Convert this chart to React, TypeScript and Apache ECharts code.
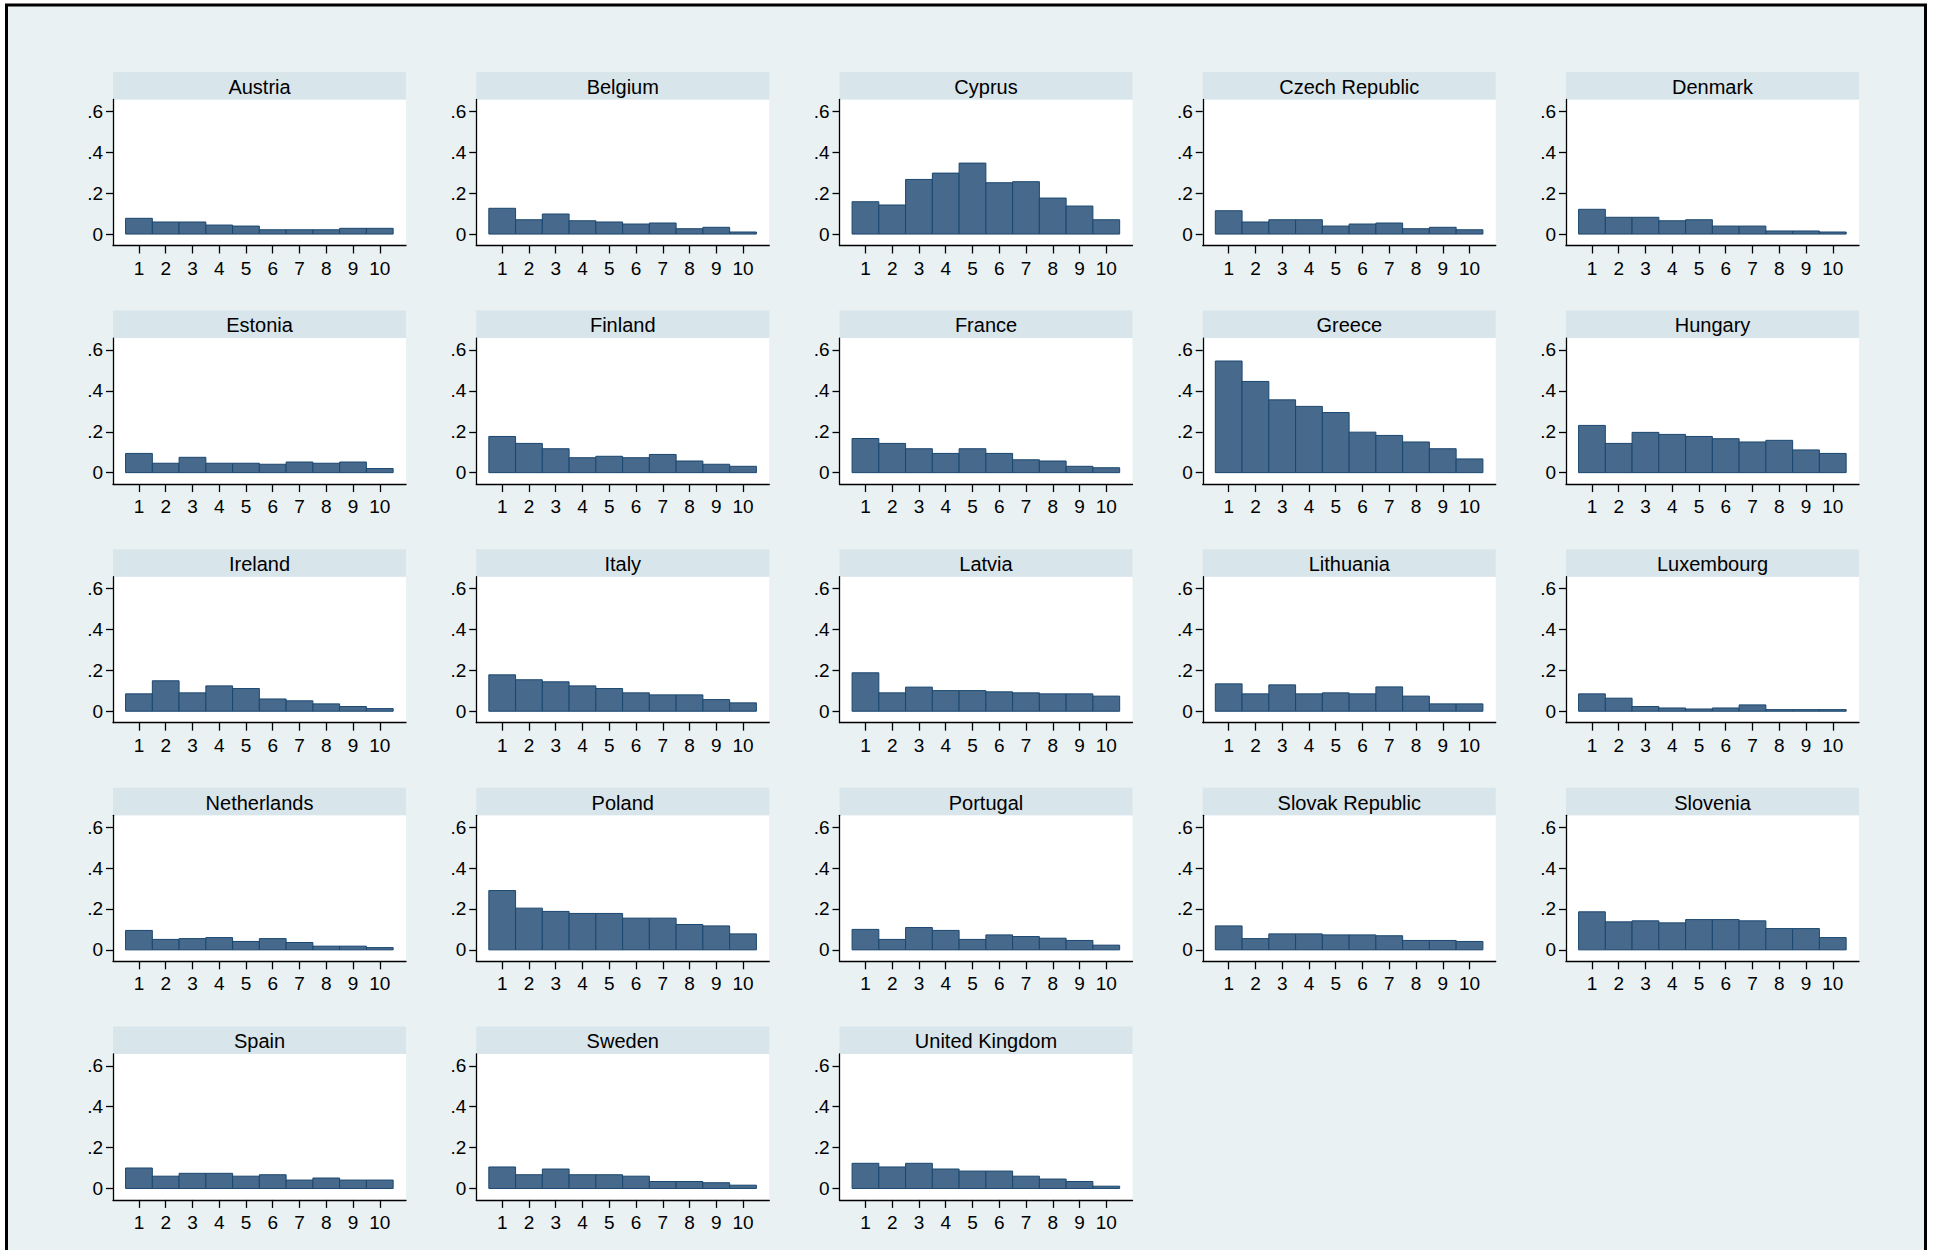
import React, { useEffect, useRef } from "react";
import * as echarts from "echarts";

const countries = [
  "Austria", "Belgium", "Cyprus", "Czech Republic", "Denmark",
  "Estonia", "Finland", "France", "Greece", "Hungary",
  "Ireland", "Italy", "Latvia", "Lithuania", "Luxembourg",
  "Netherlands", "Poland", "Portugal", "Slovak Republic", "Slovenia",
  "Spain", "Sweden", "United Kingdom",
];

const deciles = [1, 2, 3, 4, 5, 6, 7, 8, 9, 10];
const yTicks = [0, 0.2, 0.4, 0.6];

const austria = [0.077, 0.059, 0.059, 0.044, 0.039, 0.021, 0.021, 0.021, 0.028, 0.028];
const belgium = [0.126, 0.07, 0.098, 0.065, 0.059, 0.049, 0.054, 0.026, 0.033, 0.01];
const cyprus = [0.158, 0.142, 0.267, 0.298, 0.347, 0.251, 0.256, 0.176, 0.137, 0.07];
const czech = [0.114, 0.059, 0.07, 0.07, 0.039, 0.049, 0.054, 0.026, 0.033, 0.021];
const denmark = [0.121, 0.082, 0.082, 0.065, 0.07, 0.039, 0.039, 0.015, 0.015, 0.01];
const estonia = [0.094, 0.046, 0.075, 0.046, 0.046, 0.041, 0.052, 0.046, 0.052, 0.02];
const finland = [0.177, 0.143, 0.117, 0.073, 0.08, 0.073, 0.089, 0.057, 0.041, 0.031];
const france = [0.167, 0.143, 0.117, 0.094, 0.117, 0.094, 0.063, 0.057, 0.031, 0.024];
const greece = [0.546, 0.446, 0.356, 0.324, 0.294, 0.198, 0.182, 0.15, 0.117, 0.067];
const hungary = [0.231, 0.143, 0.197, 0.187, 0.177, 0.166, 0.15, 0.158, 0.111, 0.094];
const ireland = [0.085, 0.149, 0.09, 0.124, 0.111, 0.06, 0.051, 0.036, 0.023, 0.013];
const italy = [0.178, 0.154, 0.144, 0.124, 0.111, 0.09, 0.08, 0.08, 0.057, 0.041];
const latvia = [0.188, 0.09, 0.118, 0.101, 0.101, 0.095, 0.09, 0.085, 0.085, 0.074];
const lithuania = [0.134, 0.085, 0.129, 0.085, 0.09, 0.085, 0.119, 0.074, 0.036, 0.036];
const luxembourg = [0.085, 0.064, 0.023, 0.016, 0.011, 0.016, 0.031, 0.008, 0.008, 0.008];
const netherlands = [0.095, 0.051, 0.055, 0.06, 0.041, 0.055, 0.036, 0.018, 0.018, 0.011];
const poland = [0.29, 0.204, 0.188, 0.178, 0.178, 0.155, 0.155, 0.124, 0.117, 0.078];
const portugal = [0.1, 0.051, 0.109, 0.095, 0.051, 0.073, 0.065, 0.057, 0.046, 0.023];
const slovakia = [0.117, 0.055, 0.078, 0.078, 0.073, 0.073, 0.069, 0.046, 0.046, 0.041];
const slovenia = [0.186, 0.137, 0.142, 0.132, 0.148, 0.148, 0.142, 0.104, 0.104, 0.06];
const spain = [0.1, 0.06, 0.074, 0.074, 0.06, 0.067, 0.041, 0.051, 0.041, 0.041];
const sweden = [0.105, 0.067, 0.095, 0.067, 0.067, 0.06, 0.034, 0.034, 0.028, 0.016];
const uk = [0.123, 0.105, 0.123, 0.095, 0.085, 0.085, 0.06, 0.046, 0.034, 0.011];

const values = [
  austria, belgium, cyprus, czech, denmark,
  estonia, finland, france, greece, hungary,
  ireland, italy, latvia, lithuania, luxembourg,
  netherlands, poland, portugal, slovakia, slovenia,
  spain, sweden, uk,
];

const FONT = "Liberation Sans, Arial, Helvetica, sans-serif";
const W = 1935;
const H = 1250;
const COL0 = 113;
const COLSTEP = 363.25;
const ROW0 = 72;
const ROWSTEP = 238.6;
const PW = 293;
const STRIP = 27.5;
const PH = 146;

function fmtY(v: number): string {
  if (Math.abs(v) < 1e-9) return "0";
  return v.toFixed(1).replace(/^0/, "");
}

export default function App() {
  const ref = useRef<HTMLDivElement>(null);

  useEffect(() => {
    if (!ref.current) return;
    const chart = echarts.init(ref.current, undefined, { renderer: "svg", width: W, height: H });

    const grids: any[] = [];
    const xAxes: any[] = [];
    const yAxes: any[] = [];
    const series: any[] = [];
    const graphics: any[] = [
      {
        type: "rect",
        shape: { x: 6.5, y: 5, width: 1919, height: 1270 },
        style: { fill: "#E9F1F3", stroke: "#000", lineWidth: 3 },
        z: -10,
        silent: true,
      },
    ];

    const axisLineStyle = { color: "#000", width: 1.3 };

    countries.forEach((name, i) => {
      const c = i % 5;
      const r = Math.floor(i / 5);
      const L = COL0 + c * COLSTEP;
      const T = ROW0 + r * ROWSTEP;

      graphics.push({
        type: "rect",
        shape: { x: L, y: T, width: PW, height: STRIP },
        style: { fill: "#D8E5EB" },
        silent: true,
      });
      graphics.push({
        type: "text",
        x: L + PW / 2,
        y: T + STRIP / 2 + 1,
        style: {
          text: name,
          fill: "#000",
          font: `20px ${FONT}`,
          textAlign: "center",
          textVerticalAlign: "middle",
        },
        silent: true,
      });

      grids.push({
        left: L,
        top: T + STRIP,
        width: PW,
        height: PH,
        show: true,
        backgroundColor: "#fff",
        borderWidth: 0,
      });

      xAxes.push({
        type: "value",
        gridIndex: i,
        min: 0.03,
        max: 10.98,
        axisLine: { show: true, onZero: false, lineStyle: axisLineStyle },
        axisTick: { show: true, length: 8, customValues: deciles, lineStyle: axisLineStyle },
        axisLabel: {
          show: true,
          customValues: deciles,
          fontSize: 19,
          fontFamily: FONT,
          color: "#000",
          margin: 13,
        },
        splitLine: { show: false },
      });

      yAxes.push({
        type: "value",
        gridIndex: i,
        min: -0.056,
        max: 0.658,
        axisLine: { show: true, onZero: false, lineStyle: axisLineStyle },
        axisTick: { show: true, length: 7, customValues: yTicks, lineStyle: axisLineStyle },
        axisLabel: {
          show: true,
          customValues: yTicks,
          formatter: (v: number) => fmtY(v),
          fontSize: 19,
          fontFamily: FONT,
          color: "#000",
          margin: 10,
        },
        splitLine: { show: false },
      });

      series.push({
        type: "custom",
        name,
        xAxisIndex: i,
        yAxisIndex: i,
        data: deciles.map((d, k) => [d, values[i][k]]),
        renderItem: (params: any, api: any) => {
          const x = api.value(0);
          const y = api.value(1);
          const a = api.coord([x - 0.5, y]);
          const b = api.coord([x + 0.5, 0]);
          return {
            type: "rect",
            shape: { x: a[0], y: a[1], width: b[0] - a[0], height: b[1] - a[1] },
            style: { fill: "#476A8C", stroke: "#1A476F", lineWidth: 1 },
          };
        },
      });
    });

    chart.setOption({
      animation: false,
      backgroundColor: "#fff",
      grid: grids,
      xAxis: xAxes,
      yAxis: yAxes,
      series,
      graphic: graphics,
    });

    return () => chart.dispose();
  }, []);

  return (
    <div
      ref={ref}
      style={{ position: "fixed", left: 0, top: 0, width: W, height: H }}
    />
  );
}
